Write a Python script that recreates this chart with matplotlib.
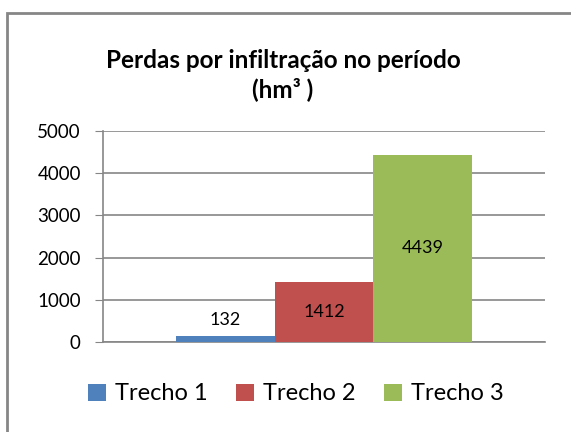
import matplotlib.pyplot as plt
from matplotlib.patches import Rectangle

# data
series = ['Trecho 1', 'Trecho 2', 'Trecho 3']
values = [132, 1412, 4439]
colors = ['#4F81BD', '#C0504D', '#9BBB59']
yticks = [0, 1000, 2000, 3000, 4000, 5000]

plt.rcParams['font.family'] = ['Lato', 'DejaVu Sans']

W, H = 571, 432
fig = plt.figure(figsize=(W / 100, H / 100), dpi=100)

# chart border (right and bottom edges are cut off in the original)
fig.patches.append(Rectangle((7 / W, -0.1), 1.2, 1 - 13 / H + 0.1,
                             transform=fig.transFigure, fill=False,
                             edgecolor='#868686', linewidth=2))

ax = fig.add_axes([103 / W, 1 - 342 / H, (545 - 103) / W, (342 - 131) / H])

bw = 0.223
offsets = [-bw, 0, bw]
for name, v, c, off in zip(series, values, colors, offsets):
    ax.bar(off, v, width=bw, color=c, label=name, zorder=3)

# data labels
ax.text(offsets[0], values[0] + 200, str(values[0]), ha='center', va='bottom', fontsize=13)
for i in (1, 2):
    ax.text(offsets[i], values[i] / 2, str(values[i]), ha='center', va='center', fontsize=13)

ax.set_xlim(-0.5, 0.5)
ax.set_ylim(0, 5000)
ax.set_yticks(yticks)
ax.set_xticks([])
ax.grid(axis='y', color='#868686', linewidth=1.2, zorder=0)
ax.tick_params(axis='y', length=6, color='#868686', labelsize=13.5, pad=10)
for s in ['top', 'right']:
    ax.spines[s].set_visible(False)
for s in ['left', 'bottom']:
    ax.spines[s].set_color('#868686')
    ax.spines[s].set_linewidth(1.2)

fig.text(283 / W, 1 - 75 / H, 'Perdas por infiltração no período\n(hm³ )',
         ha='center', va='center', fontsize=17.5, fontweight='bold', linespacing=1.3)

fig.legend(loc='center', bbox_to_anchor=(296 / W, 1 - 394 / H), ncol=3, frameon=False,
           fontsize=17, handlelength=0.75, handleheight=0.75, handletextpad=0.4,
           columnspacing=1.2)

fig.savefig('out.png', dpi=100)
